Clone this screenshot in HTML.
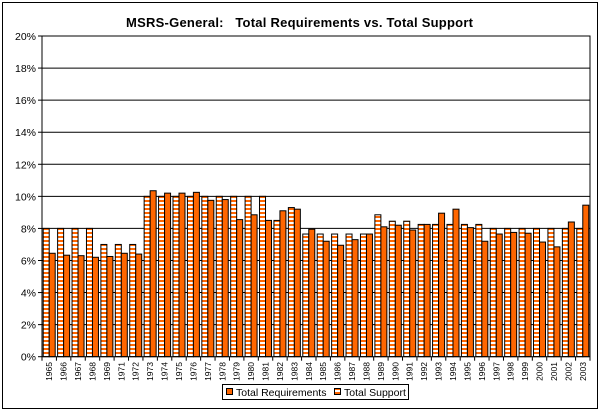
<!DOCTYPE html>
<html><head><meta charset="utf-8"><style>
body{margin:0;background:#fff;}
svg{display:block;font-family:"Liberation Sans",Arial,sans-serif;}
</style></head><body>
<svg id="c" width="600" height="411" viewBox="0 0 600 411" xmlns="http://www.w3.org/2000/svg">
<defs>
<pattern id="st" width="4" height="4" patternUnits="userSpaceOnUse" y="0">
<rect width="4" height="4" fill="#fff"/><rect width="4" height="2" fill="#ff6600"/>
</pattern>
</defs>
<rect x="2.5" y="2.5" width="595" height="406" fill="#fff" stroke="#000" stroke-width="1"/>
<text x="126" y="27" font-size="13" font-weight="bold" textLength="347" lengthAdjust="spacing" style="white-space:pre">MSRS-General:   Total Requirements vs. Total Support</text>
<g id="g"></g>
<rect x="222.5" y="384.5" width="186" height="15" fill="#fff" stroke="#000"/>
<rect x="226.5" y="388.5" width="6" height="6" fill="#ff6600" stroke="#000"/>
<text x="236" y="396" font-size="10.5">Total Requirements</text>
<rect x="334.5" y="388.5" width="6" height="6" fill="url(#st)" stroke="#000"/>
<text x="344" y="396" font-size="10.5">Total Support</text>
</svg>
<script>
var yrs=["1965","1966","1967","1968","1969","1971","1972","1973","1974","1975","1976","1977","1978","1979","1980","1981","1982","1983","1984","1985","1986","1987","1988","1989","1990","1991","1992","1993","1994","1995","1996","1997","1998","1999","2000","2001","2002","2003"];
var S=[8,8,8,8,7,7,7,10,10,10,10,10,10,10,10,10,8.5,9.3,7.65,7.65,7.65,7.65,7.65,8.85,8.45,8.45,8.25,8.25,8.25,8.25,8.25,8,8,8,8,8,8,8];
var R=[6.45,6.33,6.3,6.2,6.25,6.45,6.4,10.35,10.2,10.2,10.25,9.75,9.8,8.55,8.85,8.5,9.1,9.2,7.95,7.2,6.95,7.3,7.65,8.1,8.2,7.9,8.25,8.95,9.2,8.05,7.2,7.65,7.75,7.7,7.15,6.85,8.4,9.45];
var L=42,Rt=590,T=36,B=356.7,h='';
var Y=function(v){return B-v*(B-T)/20;};
for(var i=0;i<=10;i++){var y=Y(i*2);
 if(i>0&&i<10)h+='<line x1="'+L+'" x2="'+Rt+'" y1="'+y+'" y2="'+y+'" stroke="#000"/>';
 h+='<line x1="'+(L-4)+'" x2="'+L+'" y1="'+y+'" y2="'+y+'" stroke="#000"/>';
 h+='<text x="'+(L-6)+'" y="'+(y+4)+'" font-size="10.5" text-anchor="end">'+(i*2)+'%</text>';}
var w=(Rt-L)/38;
for(var i=0;i<38;i++){var x0=L+i*w;
 var s=Y(S[i]),r=Y(R[i]);
 h+='<rect x="'+(x0+1.2)+'" y="'+s+'" width="6" height="'+(B-s)+'" fill="url(#st)" stroke="#000" stroke-width="1"/>';
 h+='<rect x="'+(x0+7.2)+'" y="'+r+'" width="6" height="'+(B-r)+'" fill="#ff6600" stroke="#000" stroke-width="1"/>';
 h+='<line x1="'+x0+'" x2="'+x0+'" y1="'+B+'" y2="'+(B+4)+'" stroke="#000"/>';
 var cx=x0+w/2+3;
 h+='<text transform="translate('+cx+',362) rotate(-90)" font-size="8.5" text-anchor="end">'+yrs[i]+'</text>';}
h+='<line x1="'+Rt+'" x2="'+Rt+'" y1="'+B+'" y2="'+(B+4)+'" stroke="#000"/>';
h+='<rect x="'+L+'" y="'+T+'" width="'+(Rt-L)+'" height="'+(B-T)+'" fill="none" stroke="#000"/>';
document.getElementById('g').innerHTML=h;
</script>
</body></html>
